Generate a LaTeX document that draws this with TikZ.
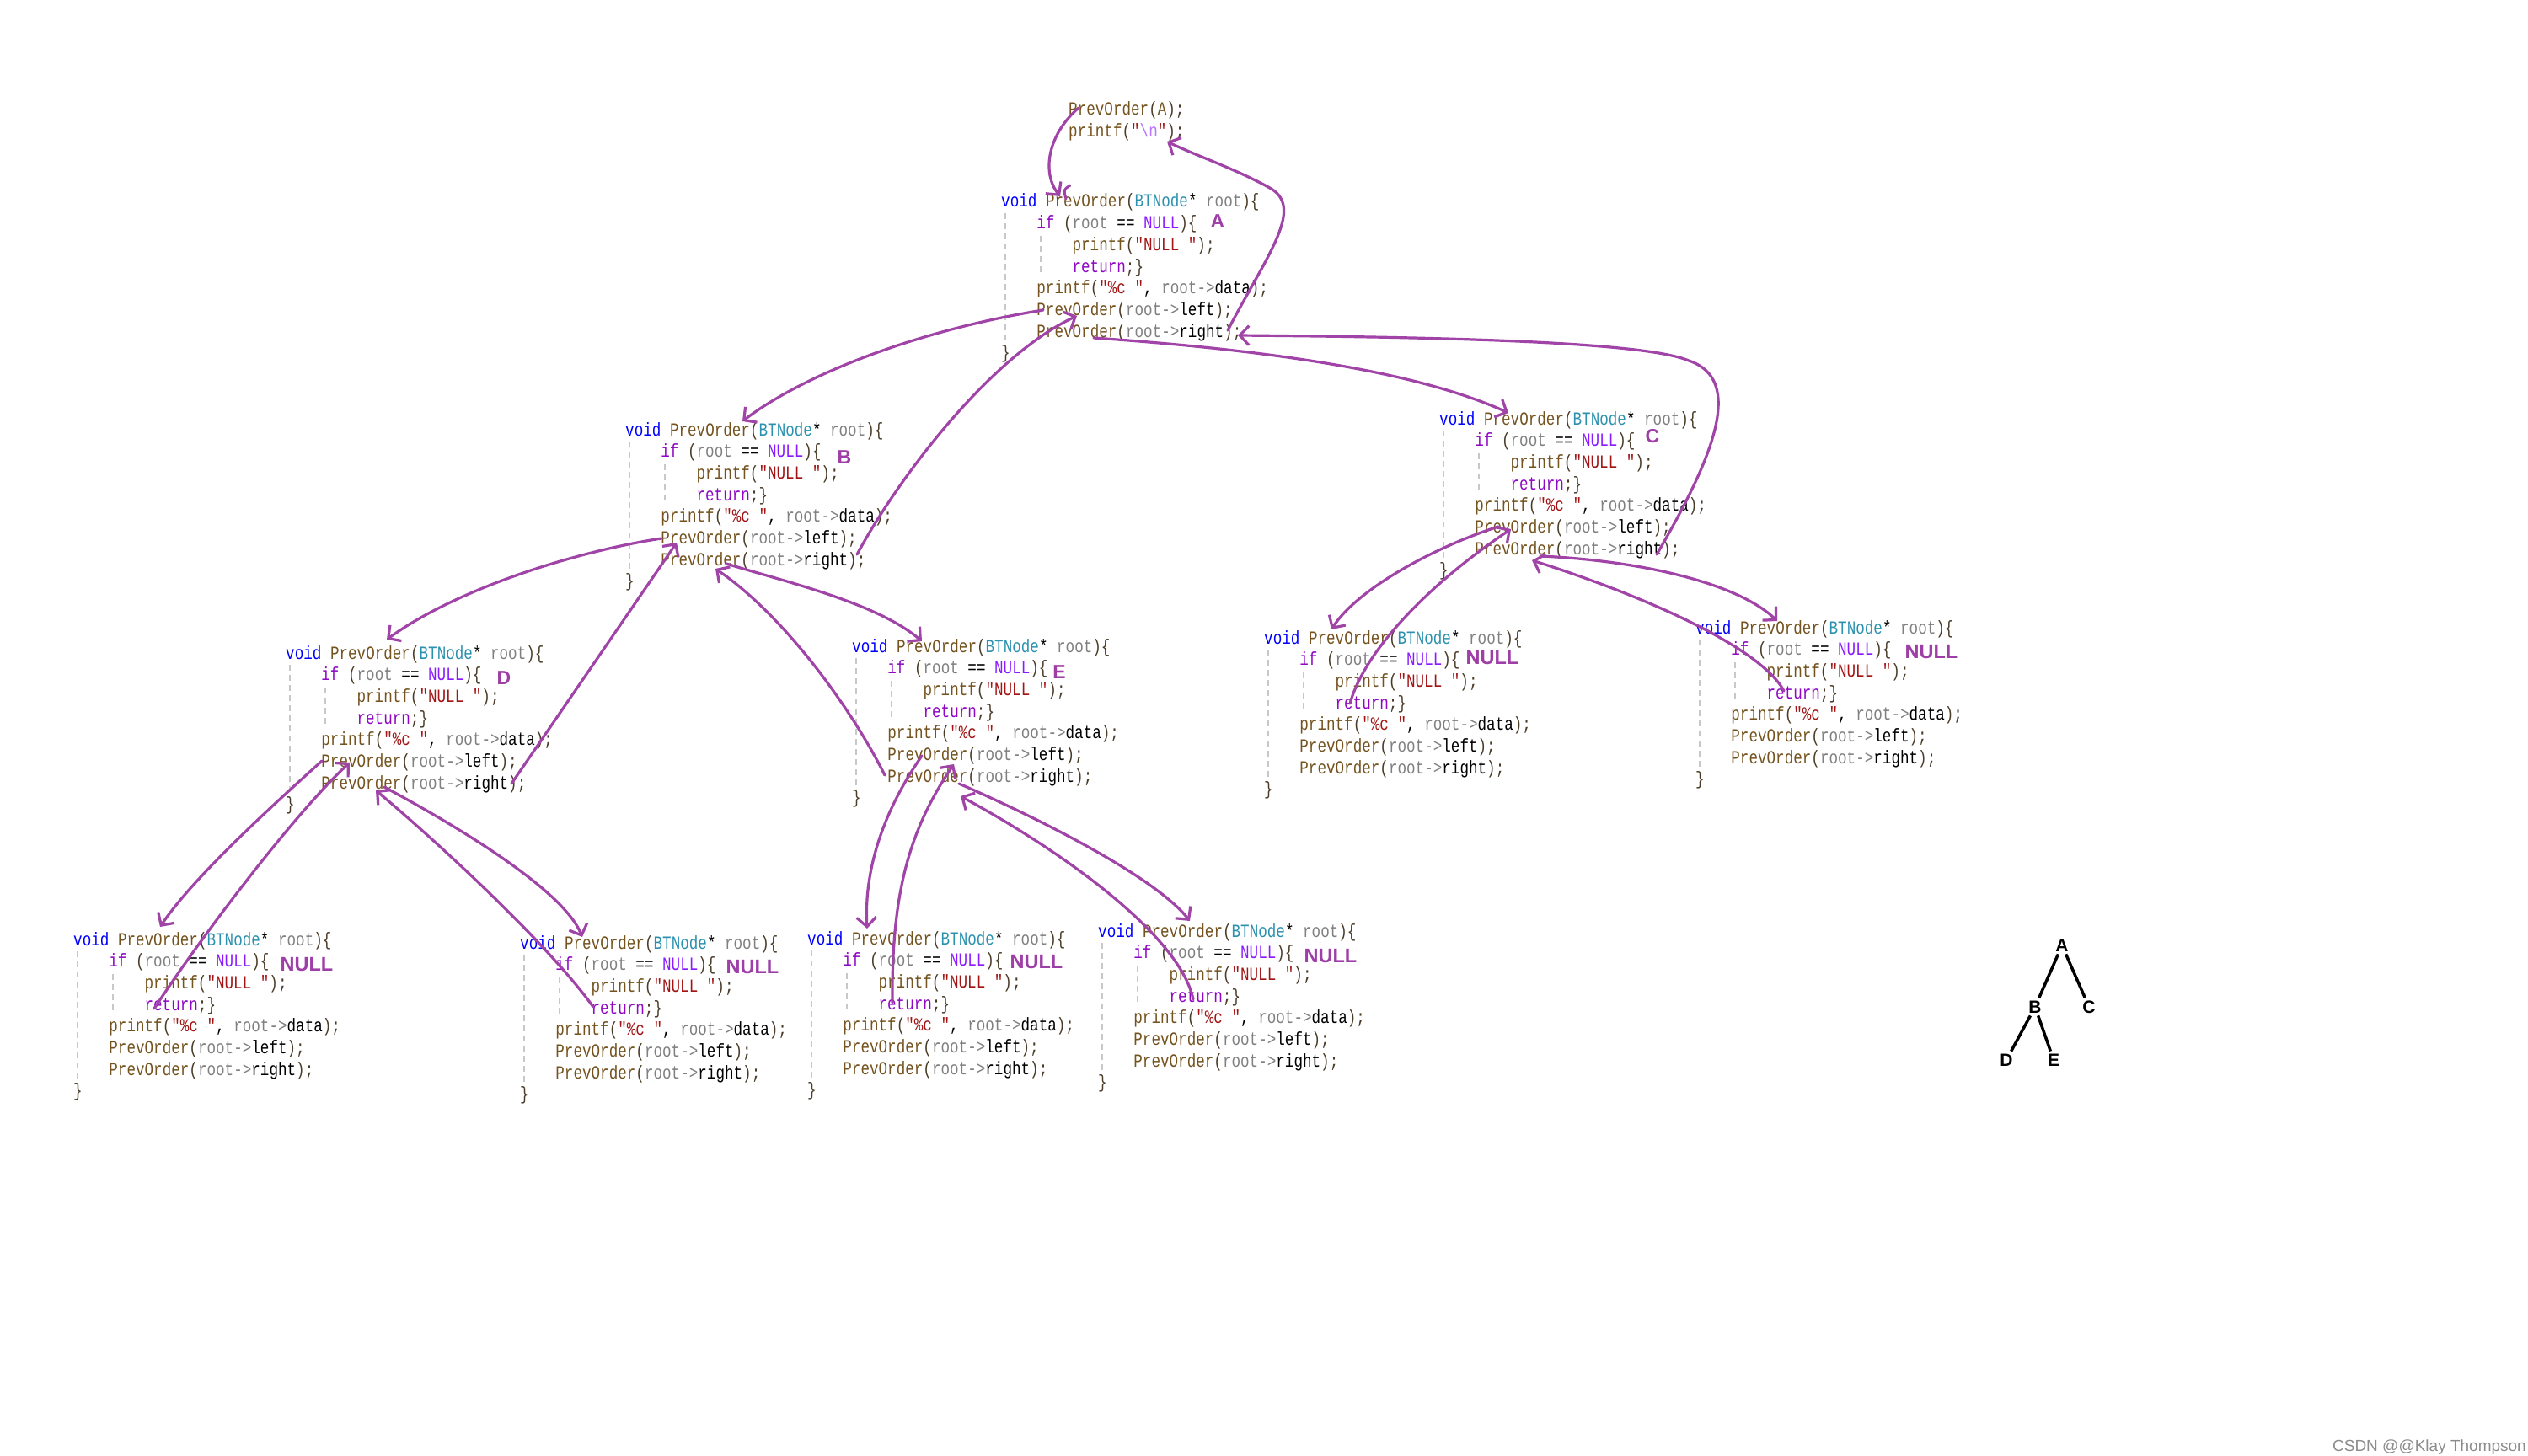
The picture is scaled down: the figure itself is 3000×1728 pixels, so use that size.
\documentclass[tikz,border=0pt]{standalone}
\usepackage{fontspec}
\newfontfamily\codefont[FakeStretch=0.8]{Liberation Mono}
\newfontfamily\labfont{Liberation Sans}
\usetikzlibrary{calc,arrows.meta}
\definecolor{kwc}{HTML}{0000FF}
\definecolor{fnc}{HTML}{74531F}
\definecolor{tyc}{HTML}{2B91AF}
\definecolor{pac}{HTML}{808080}
\definecolor{ckc}{HTML}{8F08C4}
\definecolor{mcc}{HTML}{8A1BFF}
\definecolor{stc}{HTML}{A31515}
\definecolor{esc}{HTML}{B776FB}
\definecolor{pnc}{HTML}{4A3C28}
\definecolor{arrc}{HTML}{A044A8}
\definecolor{labc}{HTML}{9E3FA8}
\definecolor{guidec}{HTML}{C8C8C8}
\newcommand\Kw[1]{\textcolor{kwc}{#1}}
\newcommand\Fn[1]{\textcolor{fnc}{#1}}
\newcommand\Ty[1]{\textcolor{tyc}{#1}}
\newcommand\Pa[1]{\textcolor{pac}{#1}}
\newcommand\Ck[1]{\textcolor{ckc}{#1}}
\newcommand\Mc[1]{\textcolor{mcc}{#1}}
\newcommand\St[1]{\textcolor{stc}{#1}}
\newcommand\Es[1]{\textcolor{esc}{#1}}
\newcommand\Pn[1]{\textcolor{pnc}{#1}}
\newcommand\codeblock[1]{%
  \node[code] (#1-0) at ($(#1)+(0,7)$) {\Kw{void} \Fn{PrevOrder}\Pn{(}\Ty{BTNode}* \Pa{root}\Pn{)\{}};
  \node[code] (#1-1) at ($(#1)+(42.2,32.7)$) {\Ck{if} \Pn{(}\Pa{root} == \Mc{NULL}\Pn{)\{}};
  \node[code] (#1-2) at ($(#1)+(84.4,58.4)$) {\Fn{printf}\Pn{(}\St{"NULL "}\Pn{);}};
  \node[code] (#1-3) at ($(#1)+(84.4,84.1)$) {\Ck{return}\Pn{;\}}};
  \node[code] (#1-4) at ($(#1)+(42.2,109.8)$) {\Fn{printf}\Pn{(}\St{"\%c "}, \Pa{root->}data\Pn{);}};
  \node[code] (#1-5) at ($(#1)+(42.2,135.5)$) {\Fn{PrevOrder}\Pn{(}\Pa{root->}left\Pn{);}};
  \node[code] (#1-6) at ($(#1)+(42.2,161.2)$) {\Fn{PrevOrder}\Pn{(}\Pa{root->}right\Pn{);}};
  \node[code] (#1-7) at ($(#1)+(0,186.9)$) {\Pn{\}}};
  \draw[guide] ($(#1)+(5,14)$) -- ($(#1)+(5,167)$);
  \draw[guide] ($(#1)+(47,41)$) -- ($(#1)+(47,84)$);
}
\tikzset{
  code/.style={anchor=base west, inner sep=0pt, font=\codefont\fontsize{22}{26}\selectfont},
  guide/.style={draw=guidec, line width=1.5pt, dash pattern=on 7pt off 5pt},
  arr/.style={draw=arrc, line width=3.2pt, line cap=round, line join=round, -{Straight Barb[length=11pt,width=23pt]}},
  stroke/.style={draw=arrc, line width=3pt, line cap=round},
  lab/.style={text=labc, inner sep=0pt, font=\labfont\bfseries\fontsize{23}{23}\selectfont},
  nulllab/.style={text=labc, inner sep=0pt, font=\labfont\bfseries\fontsize{23.5}{24}\selectfont},
  treenode/.style={text=black, inner sep=3pt, font=\labfont\bfseries\fontsize{21}{21}\selectfont},
  treeedge/.style={draw=black, line width=3.5pt}
}
\begin{document}
\begin{tikzpicture}[x=1pt,y=-1pt]
\fill[white] (0,0) rectangle (3000,1728);
\useasboundingbox (0,0) rectangle (3000,1728);
% block origins
\coordinate (M) at (1268,130);
\coordinate (A) at (1188,239);
\coordinate (B) at (742,510);
\coordinate (C) at (1708,497);
\coordinate (D) at (339,775);
\coordinate (E) at (1011,767);
\coordinate (DL) at (87,1115);
\coordinate (DR) at (617,1119);
\coordinate (EL) at (958,1114);
\coordinate (ER) at (1303,1105);
\coordinate (CL) at (1500,757);
\coordinate (CR) at (2012,745);
% main call
\node[code] (M-0) at ($(M)+(0,7)$) {\Fn{PrevOrder}\Pn{(}\Fn{A}\Pn{);}};
\node[code] (M-1) at ($(M)+(0,33)$) {\Fn{printf}\Pn{(}\St{"}\Es{\textbackslash n}\St{"}\Pn{);}};
% code blocks
\codeblock{A}
\codeblock{B}
\codeblock{C}
\codeblock{D}
\codeblock{E}
\codeblock{DL}
\codeblock{DR}
\codeblock{EL}
\codeblock{ER}
\codeblock{CL}
\codeblock{CR}
% labels
\node[lab] (labA) at ($(A)+(257,24)$) {A};
\node[lab] (labB) at ($(B)+(260,33)$) {B};
\node[lab] (labC) at ($(C)+(253,21)$) {C};
\node[lab] (labD) at ($(D)+(259,30)$) {D};
\node[lab] (labE) at ($(E)+(246,31)$) {E};
\node[nulllab] (nDL) at ($(DL)+(277,30)$) {NULL};
\node[nulllab] (nDR) at ($(DR)+(276,29)$) {NULL};
\node[nulllab] (nEL) at ($(EL)+(272,28)$) {NULL};
\node[nulllab] (nER) at ($(ER)+(276,30)$) {NULL};
\node[nulllab] (nCL) at ($(CL)+(271,24)$) {NULL};
\node[nulllab] (nCR) at ($(CR)+(280,29)$) {NULL};
% arrows
\draw[arr] ($(M)+(12,-2)$) .. controls (1243,160) and (1236,205) .. ($(A)+(70,-6)$);
\draw[stroke] ($(A)+(82,-19)$) .. controls ($(A)+(74,-14)$) .. ($(A)+(77,-3)$);
\draw[arr] ($(A)+(269,153)$) .. controls (1505,300) and (1550,245) .. (1505,222) .. controls (1465,200) and (1420,185) .. ($(M)+(117,38)$);
\draw[arr] ($(A)+(50,129)$) .. controls (1100,390) and (960,440) .. ($(B)+(139,-10)$);
\draw[arr] ($(B)+(275,148)$) .. controls (1070,560) and (1180,420) .. ($(A)+(90,136)$);
\draw[arr] ($(A)+(110,162)$) .. controls (1500,415) and (1680,440) .. ($(C)+(82,-7)$);
\draw[arr] ($(C)+(258,161)$) .. controls (2035,540) and (2070,450) .. (2004,428) .. controls (1950,405) and (1700,400) .. ($(A)+(281,159)$);
\draw[arr] ($(B)+(43,129)$) .. controls (680,655) and (540,700) .. ($(D)+(120,-16)$);
\draw[arr] ($(D)+(268,155)$) -- ($(B)+(61,134)$);
\draw[arr] ($(B)+(120,159)$) .. controls (930,690) and (1040,715) .. ($(E)+(83,-6)$);
\draw[arr] ($(E)+(39,153)$) .. controls (1010,840) and (930,730) .. ($(B)+(107,165)$);
\draw[arr] ($(D)+(43,128)$) .. controls (330,950) and (230,1040) .. ($(DL)+(103,-15)$);
\draw[arr] ($(DL)+(96,82)$) .. controls (240,1110) and (350,965) .. ($(D)+(76,130)$);
\draw[arr] ($(D)+(117,159)$) .. controls (560,990) and (670,1060) .. ($(DR)+(74,-7)$);
\draw[arr] ($(DR)+(87,76)$) .. controls (650,1120) and (520,1000) .. ($(D)+(107,163)$);
\draw[arr] ($(E)+(83,130)$) .. controls (1050,960) and (1025,1030) .. ($(EL)+(71,-12)$);
\draw[arr] ($(EL)+(101,76)$) .. controls (1058,1070) and (1075,990) .. ($(E)+(121,140)$);
\draw[arr] ($(E)+(127,163)$) .. controls (1230,970) and (1370,1040) .. ($(ER)+(109,-12)$);
\draw[arr] ($(ER)+(113,81)$) .. controls (1400,1110) and (1260,1010) .. ($(E)+(129,178)$);
\draw[arr] ($(C)+(70,128)$) .. controls (1700,650) and (1610,700) .. ($(CL)+(80,-10)$);
\draw[arr] ($(CL)+(102,78)$) .. controls (1620,770) and (1700,690) .. ($(C)+(85,131)$);
\draw[arr] ($(C)+(120,163)$) .. controls (1940,665) and (2060,690) .. ($(CR)+(97,-8)$);
\draw[arr] ($(CR)+(105,75)$) .. controls (2090,770) and (1960,710) .. ($(C)+(110,168)$);
% small tree
\node[treenode] (tA) at (2447,1122) {A};
\node[treenode] (tB) at (2415,1195) {B};
\node[treenode] (tC) at (2479,1195) {C};
\node[treenode] (tD) at (2381,1258) {D};
\node[treenode] (tE) at (2437,1258) {E};
\draw[treeedge] (tA) -- (tB);
\draw[treeedge] (tA) -- (tC);
\draw[treeedge] (tB) -- (tD);
\draw[treeedge] (tB) -- (tE);
% watermark
\node[anchor=base east, inner sep=0pt, text=black!45, font=\labfont\fontsize{19}{19}\selectfont] (wm) at (2998,1722) {CSDN @@Klay Thompson};
\end{tikzpicture}
\end{document}
